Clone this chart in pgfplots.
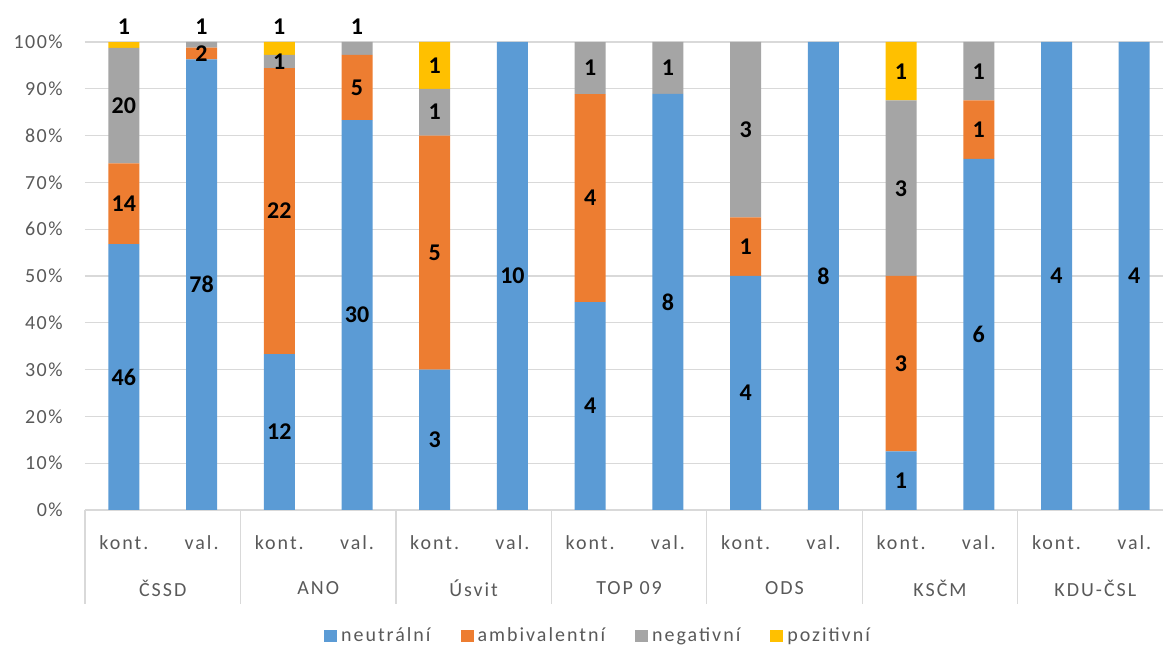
\documentclass[border=0pt]{standalone}
\usepackage{pgfplots}
\pgfplotsset{compat=1.18}
\usepackage{pgfplotstable}
\usepackage{fontspec}
\setmainfont{Carlito}
\newfontfamily\lblfont[LetterSpace=10]{Carlito}
\newfontfamily\tickfont[LetterSpace=7]{Carlito}
\definecolor{cneu}{RGB}{91,155,213}
\definecolor{camb}{RGB}{237,125,49}
\definecolor{cneg}{RGB}{165,165,165}
\definecolor{cpoz}{RGB}{255,192,0}
\definecolor{gridgray}{RGB}{217,217,217}
\definecolor{txtgray}{RGB}{89,89,89}

% x = bar index, pct = share of the bar, n = count shown as label
\pgfplotstableread{
x pct n
0 56.79 46
1 96.30 78
2 33.33 12
3 83.33 30
4 30.00 3
5 100 10
6 44.44 4
7 88.89 8
8 50.00 4
9 100 8
10 12.50 1
11 75.00 6
12 100 4
13 100 4
}\neutralni
\pgfplotstableread{
x pct n
0 17.28 14
1 2.47 2
2 61.11 22
3 13.89 5
4 50.00 5
5 0 0
6 44.44 4
7 0 0
8 12.50 1
9 0 0
10 37.50 3
11 12.50 1
12 0 0
13 0 0
}\ambivalentni
\pgfplotstableread{
x pct n
0 24.69 20
1 1.23 1
2 2.78 1
3 2.78 1
4 10.00 1
5 0 0
6 11.11 1
7 11.11 1
8 37.50 3
9 0 0
10 37.50 3
11 12.50 1
12 0 0
13 0 0
}\negativni
\pgfplotstableread{
x pct n
0 1.23 1
1 0 0
2 2.78 1
3 0 0
4 10.00 1
5 0 0
6 0 0
7 0 0
8 0 0
9 0 0
10 12.50 1
11 0 0
12 0 0
13 0 0
}\pozitivni

\def\zerolab{0}

\begin{document}
\begin{tikzpicture}
\begin{axis}[
    ybar stacked,
    scale only axis,
    clip=false,
    width=539pt, height=234pt,
    xmin=-0.5, xmax=13.37,
    ymin=0, ymax=100,
    bar width=15.5pt,
    xtick={0,...,13},
    xticklabels={kont.,val.,kont.,val.,kont.,val.,kont.,val.,kont.,val.,kont.,val.,kont.,val.},
    xtick pos=left,
    xtick style={draw=none},
    xticklabel style={anchor=center, inner sep=0pt, yshift=-16.5pt, font=\lblfont\fontsize{10}{12}\selectfont, text=txtgray},
    ytick={0,10,...,100},
    yticklabel={\pgfmathprintnumber{\tick}\%},
    yticklabel style={inner sep=0pt, xshift=-11pt, font=\tickfont\fontsize{10}{12}\selectfont, text=txtgray},
    ytick style={draw=none},
    /pgf/number format/assume math mode=true,
    ymajorgrids,
    grid style={draw=gridgray, line width=0.6pt},
    x axis line style={draw=gridgray, line width=0.6pt},
    y axis line style={draw=none},
    point meta=explicit symbolic,
    visualization depends on={rawy \as \rawy},
    visualization depends on={y \as \cumy},
    nodes near coords={\edef\lab{\pgfplotspointmeta}\ifx\lab\zerolab\else\lab\fi},
    every node near coord/.append style={anchor=center, inner sep=0pt,
        font=\fontsize{12}{14}\selectfont\bfseries, text=black,
        yshift={ifthenelse(and(\rawy<3,\cumy>99.5),7.5+1.17*\rawy,0)*1pt}},
    legend columns=4,
    legend style={draw=none, fill=none, at={(rel axis cs:0,0)}, anchor=center,
        xshift=257pt, yshift=-63pt, font=\lblfont\fontsize{10}{12}\selectfont, text=txtgray,
        nodes={inner xsep=2pt},
        /tikz/every even column/.append style={column sep=13pt}},
    legend image code/.code={\fill[#1] (0pt,-3.2pt) rectangle (6.5pt,3.2pt);},
]
\addplot[fill=cneu, draw=none] table[x=x, y=pct, meta=n] {\neutralni};
\addplot[fill=camb, draw=none] table[x=x, y=pct, meta=n] {\ambivalentni};
\addplot[fill=cneg, draw=none] table[x=x, y=pct, meta=n] {\negativni};
\addplot[fill=cpoz, draw=none] table[x=x, y=pct, meta=n] {\pozitivni};
\legend{neutrální, ambivalentní, negativní, pozitivní}
\coordinate (bl) at (axis cs:-0.5,0);
\foreach \s in {-0.5,1.5,3.5,5.5,7.5,9.5,11.5}{
  \edef\tmp{\noexpand\draw[gridgray, line width=0.7pt] (axis cs:\s,0) -- ++(0pt,-47pt);}
  \tmp
}
\foreach \p/\nm in {0.5/ČSSD, 2.5/ANO, 4.5/Úsvit, 6.5/TOP 09, 8.5/ODS, 10.5/KSČM, 12.5/KDU-ČSL}{
  \edef\tmp{\noexpand\node[anchor=center, inner sep=0pt, yshift=-39pt, font=\noexpand\lblfont\noexpand\fontsize{10}{12}\noexpand\selectfont, text=txtgray] at (axis cs:\p,0) {\nm};}
  \tmp
}
\end{axis}
\pgfresetboundingbox
\path[use as bounding box] (bl) ++(-42.5pt,-70.5pt) rectangle ++(581.5pt,325.5pt);
\end{tikzpicture}
\end{document}
